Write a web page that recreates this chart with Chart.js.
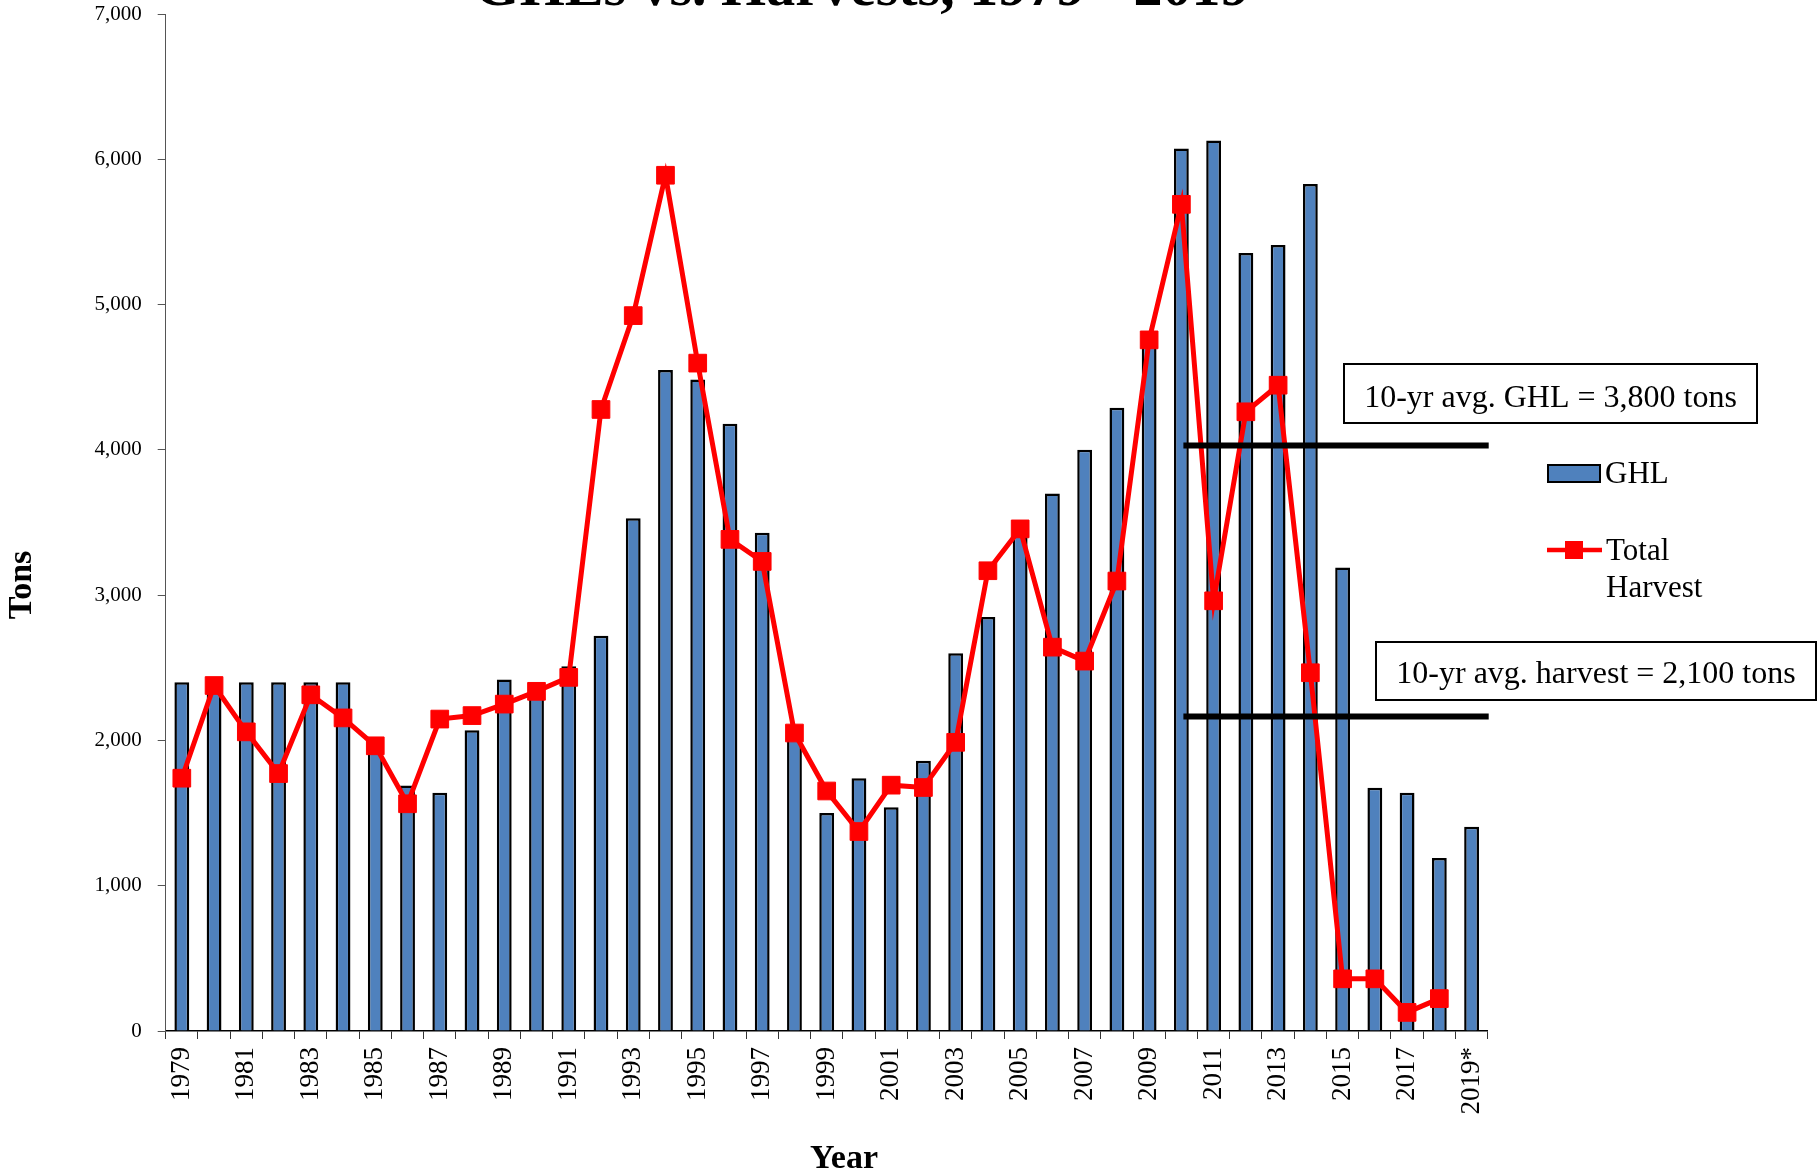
<!DOCTYPE html>
<html>
<head>
<meta charset="utf-8">
<script src="https://cdn.jsdelivr.net/npm/chart.js@4.4.1/dist/chart.umd.min.js"></script>
<style>
html,body{margin:0;padding:0;background:#fff;overflow:hidden}
canvas{display:block}
</style>
</head>
<body>
<canvas id="c" width="1818" height="1175"></canvas>
<script>
// ---- data ----
const years = ['1979','1980','1981','1982','1983','1984','1985','1986','1987','1988',
  '1989','1990','1991','1992','1993','1994','1995','1996','1997','1998',
  '1999','2000','2001','2002','2003','2004','2005','2006','2007','2008',
  '2009','2010','2011','2012','2013','2014','2015','2016','2017','2018','2019*'];
const ghl = [2400,2400,2400,2400,2400,2400,2000,1690,1640,2070,
  2420,2350,2510,2720,3530,4550,4485,4180,3430,2050,
  1500,1740,1540,1860,2600,2850,3450,3700,4000,4290,
  4750,6075,6130,5355,5410,5830,3190,1675,1640,1190,1405];
const harvest = [1740,2378,2059,1772,2314,2155,1963,1564,2147,2171,
  2250,2338,2434,4278,4924,5890,4597,3384,3232,2051,
  1652,1373,1692,1676,1987,3168,3456,2642,2546,3097,
  4757,5690,2961,4262,4445,2466,359,359,128,223,null];
const yMin = 0, yMax = 7000, yStep = 1000;
const avgLineValues = [4030, 2165];
const avgLineStartYear = '2010';
const avgLabels = ['10-yr avg. GHL = 3,800 tons', '10-yr avg. harvest = 2,100 tons'];
const seriesNames = ['GHL', 'Total Harvest'];
const titleText = 'GHLs vs. Harvests, 1979 - 2019';
const xTitle = 'Year';
const yTitle = 'Tons';

const SERIF = '"Liberation Serif", "Times New Roman", serif';
const BLUE = '#4F81BD';
const RED = '#FF0000';

const overlay = {
  id: 'overlay',
  afterDatasetsDraw(chart) {
    const ctx = chart.ctx, xs = chart.scales.x, ys = chart.scales.y, ca = chart.chartArea;
    ctx.save();
    const x0 = xs.getPixelForValue(years.indexOf(avgLineStartYear));
    ctx.strokeStyle = '#000';
    ctx.lineWidth = 6;
    avgLineValues.forEach(v => {
      const py = ys.getPixelForValue(v);
      ctx.beginPath();
      ctx.moveTo(x0 + 2, py);
      ctx.lineTo(ca.right + 1, py);
      ctx.stroke();
    });
    ctx.restore();
  },
  afterDraw(chart) {
    const ctx = chart.ctx;
    ctx.save();
    ctx.fillStyle = '#000';
    // title (partly above the visible page)
    ctx.font = 'bold 58px ' + SERIF;
    ctx.textAlign = 'center';
    ctx.textBaseline = 'alphabetic';
    ctx.fillText(titleText, 862, 5);
    // axis titles
    ctx.font = 'bold 34px ' + SERIF;
    ctx.fillText(xTitle, 844, 1168);
    ctx.save();
    ctx.translate(31, 585);
    ctx.rotate(-Math.PI / 2);
    ctx.fillText(yTitle, 0, 0);
    ctx.restore();
    // annotation boxes
    const boxes = [
      {x: 1344, y: 364, w: 413, h: 59, base: 407, text: avgLabels[0]},
      {x: 1376, y: 642, w: 440, h: 58, base: 683, text: avgLabels[1]}
    ];
    ctx.font = '32px ' + SERIF;
    boxes.forEach(b => {
      ctx.fillStyle = '#fff';
      ctx.fillRect(b.x, b.y, b.w, b.h);
      ctx.strokeStyle = '#000';
      ctx.lineWidth = 2;
      ctx.strokeRect(b.x, b.y, b.w, b.h);
      ctx.fillStyle = '#000';
      ctx.textAlign = 'center';
      ctx.fillText(b.text, b.x + b.w / 2, b.base);
    });
    // legend
    ctx.fillStyle = BLUE;
    ctx.fillRect(1548, 465, 52, 17);
    ctx.strokeStyle = '#000';
    ctx.lineWidth = 2;
    ctx.strokeRect(1548, 465, 52, 17);
    ctx.strokeStyle = RED;
    ctx.lineWidth = 4.5;
    ctx.beginPath();
    ctx.moveTo(1547, 550);
    ctx.lineTo(1602, 550);
    ctx.stroke();
    ctx.fillStyle = RED;
    ctx.fillRect(1565, 541, 18, 18);
    ctx.fillStyle = '#000';
    ctx.font = '31px ' + SERIF;
    ctx.textAlign = 'left';
    ctx.fillText(seriesNames[0], 1605, 483);
    const parts = seriesNames[1].split(' ');
    ctx.fillText(parts[0], 1606, 560);
    ctx.fillText(parts[1], 1606, 597);
    ctx.restore();
  }
};

new Chart(document.getElementById('c'), {
  type: 'bar',
  data: {
    labels: years,
    datasets: [
      {
        type: 'line',
        label: seriesNames[1],
        data: harvest,
        borderColor: RED,
        backgroundColor: RED,
        borderWidth: 5,
        pointStyle: 'rect',
        pointRadius: 12.5,
        pointBorderWidth: 1,
        pointBackgroundColor: RED,
        pointBorderColor: RED,
        tension: 0,
        order: 0
      },
      {
        type: 'bar',
        label: seriesNames[0],
        data: ghl,
        backgroundColor: BLUE,
        borderColor: '#000',
        borderWidth: 2.5,
        barPercentage: 0.46,
        categoryPercentage: 1,
        order: 1
      }
    ]
  },
  options: {
    responsive: false,
    animation: false,
    devicePixelRatio: 1,
    layout: {padding: {left: 0, top: 14, right: 330.3, bottom: 0}},
    plugins: {legend: {display: false}, tooltip: {enabled: false}, title: {display: false}},
    scales: {
      x: {
        grid: {display: true, drawOnChartArea: false, drawTicks: true, tickLength: 8, color: '#333', offset: true},
        border: {display: true, color: '#000', width: 1.5},
        ticks: {
          autoSkip: false,
          minRotation: 90,
          maxRotation: 90,
          padding: 8,
          color: '#000',
          font: {family: SERIF, size: 27},
          callback: (v, i) => (i % 2 === 0 ? years[i] : '')
        },
        afterFit: s => { s.height = 144; s.paddingLeft = 0; s.paddingRight = 0; }
      },
      y: {
        min: yMin,
        max: yMax,
        grid: {display: true, drawOnChartArea: false, drawTicks: true, tickLength: 8, color: '#555'},
        border: {display: true, color: '#555', width: 1},
        ticks: {
          stepSize: yStep,
          padding: 16,
          color: '#000',
          font: {family: SERIF, size: 21},
          callback: v => v.toLocaleString('en-US')
        },
        afterFit: s => { s.width = 165.7; s.paddingTop = 0; s.paddingBottom = 0; }
      }
    }
  },
  plugins: [overlay]
});
</script>
</body>
</html>
